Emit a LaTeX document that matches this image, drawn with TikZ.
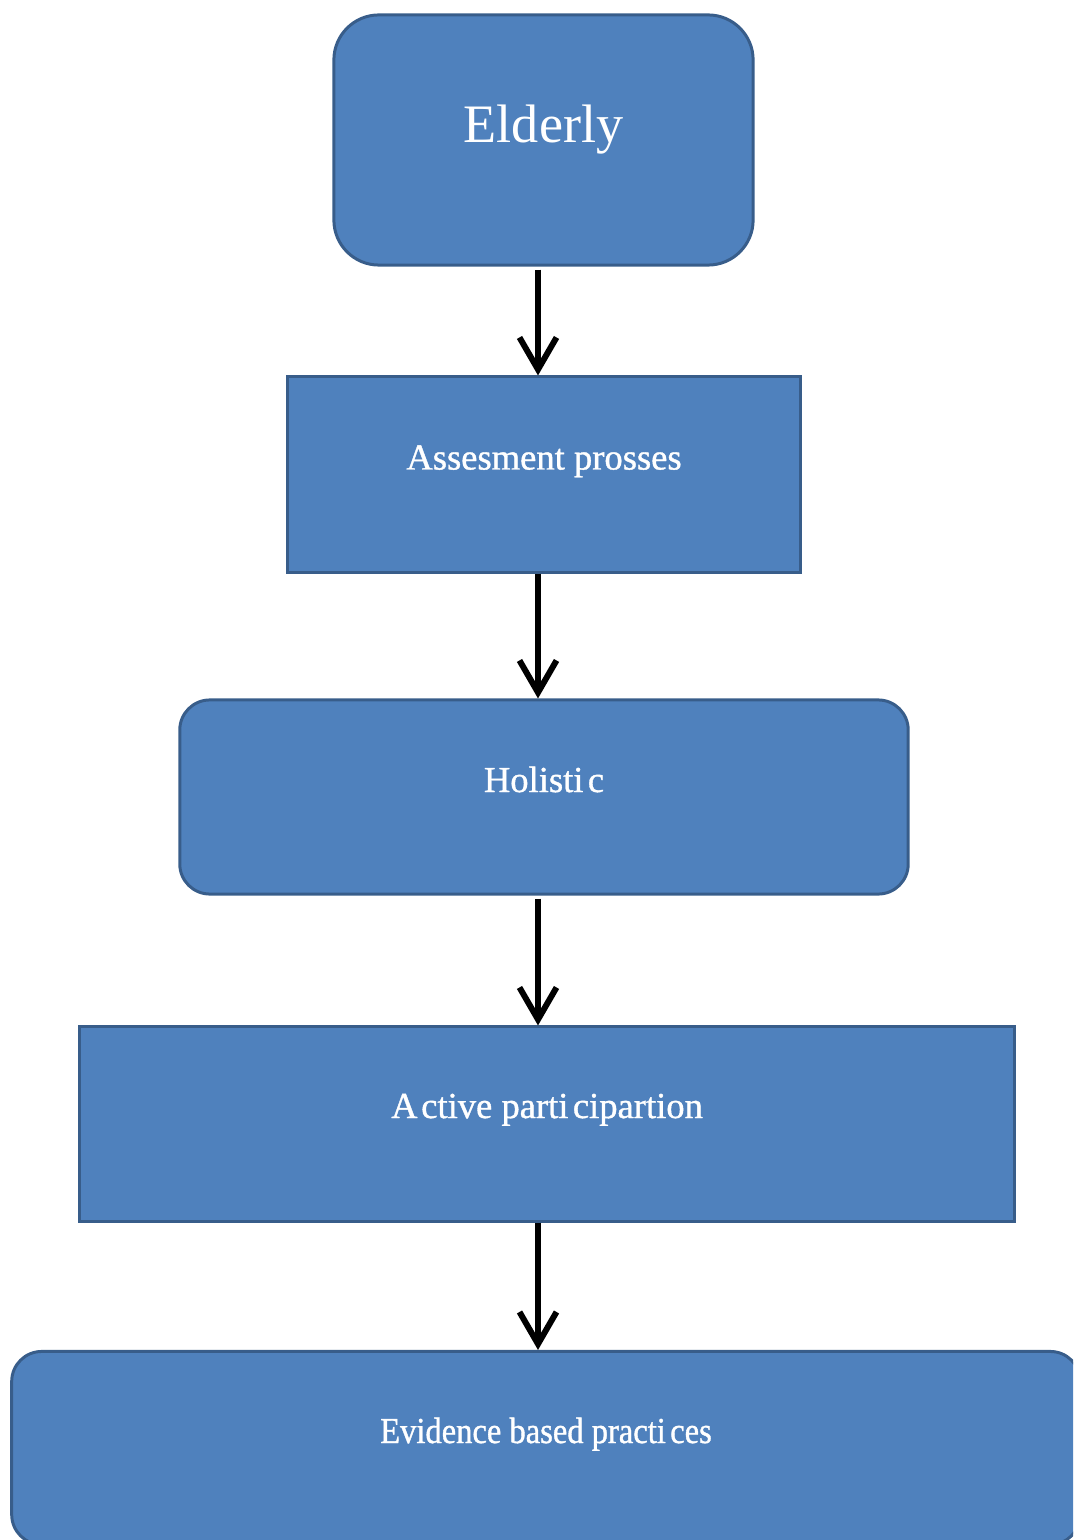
\documentclass[tikz,border=0pt]{standalone}
\usepackage{fontspec}
\setmainfont{Liberation Serif}
\newfontfamily\heavyserif[FakeBold=1.0]{Liberation Serif}
\newfontfamily\narrowserif[FakeStretch=0.89, FakeBold=1.0]{Liberation Serif}
\usepackage{xcolor}
\usetikzlibrary{arrows.meta,positioning}

\definecolor{boxfill}{HTML}{4F81BD}
\definecolor{boxline}{HTML}{385D8A}

\begin{document}
\begin{tikzpicture}[x=0.01cm, y=-0.01cm,
  box/.style={draw=boxline, line width=0.85pt, fill=boxfill, text=white, align=center, inner sep=0pt,
    font=\fontsize{10.4}{12}\heavyserif, text height=0.3cm, text depth=0.4cm},
  rbox/.style={box, rounded corners=0.3cm},
  arrow/.style={-{Straight Barb[length=3.2mm, width=3.7mm]}, line width=1.7pt, black}
]
\useasboundingbox (0,0) rectangle (1073,1540);
\clip (0,0) rectangle (1073,1540);

\node[rbox, rounded corners=0.45cm, minimum width=4.19cm, minimum height=2.5cm,
  font=\fontsize{15.4}{18}\rmfamily, text height=0.45cm, text depth=0.39cm] (elderly) at (543.5,140) {Elderly};
\node[box, minimum width=5.12cm, minimum height=1.95cm] (assess) at (544,474.5) {Assesment prosses};
\node[rbox, minimum width=7.28cm, minimum height=1.94cm] (holistic) at (544,797) {Holisti\kern0.12em c};
\node[box, minimum width=9.34cm, minimum height=1.94cm, text depth=0.42cm] (active) at (547,1124) {A\kern0.1em ctive parti\kern0.12em cipartion};
\node[rbox, minimum width=10.68cm, minimum height=1.93cm, font=\fontsize{10.4}{12}\narrowserif] (evidence) at (546,1448) {Evidence based practi\kern0.12em ces};

\coordinate (axis) at (538,0);
\draw[arrow] ([yshift=-0.03cm]elderly.south -| axis) -- (assess.north -| axis);
\draw[arrow] (assess.south -| axis) -- (holistic.north -| axis);
\draw[arrow] ([yshift=-0.03cm]holistic.south -| axis) -- (active.north -| axis);
\draw[arrow] (active.south -| axis) -- (evidence.north -| axis);
\end{tikzpicture}
\end{document}
